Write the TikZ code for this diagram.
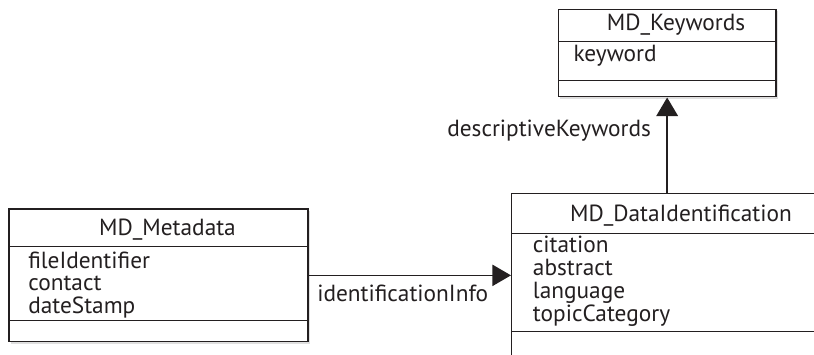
\documentclass[tikz,border=0pt]{standalone}
\usepackage{fontspec}
\setmainfont{PT Sans}
\usetikzlibrary{fit,arrows.meta,shadows}
\definecolor{ink}{HTML}{231F20}
\tikzset{
  umlbox/.style={draw=ink, line width=1.1pt, inner sep=0pt, fill=white,
    drop shadow={opacity=0.25, shadow xshift=1.4pt, shadow yshift=-1.4pt}},
  sepline/.style={draw=ink, line width=0.9pt},
  ttl/.style={text=ink, font=\fontsize{17.5}{20}\selectfont, anchor=base, inner sep=0pt},
  attr/.style={text=ink, font=\fontsize{17.5}{20}\selectfont, anchor=base west, inner sep=0pt},
  lbl/.style={text=ink, font=\fontsize{17.5}{20}\selectfont, anchor=base west, inner sep=0pt},
  assoc/.style={draw=ink, -{Triangle[length=14pt,width=16pt]}}
}
\begin{document}
\begin{tikzpicture}[x=0.75pt,y=-0.75pt]
\useasboundingbox (0,0) rectangle (814,354);
\clip (0,0) rectangle (814,354);
\fill[white] (0,0) rectangle (814,354);
% MD_Metadata
\node[umlbox, fit={(9,209) (308,341.7)}] (meta) {};
\draw[sepline] (9,246.7) -- (308,246.7);
\draw[sepline] (9,320.7) -- (308,320.7);
\node[ttl] (metat) at (167.5,235) {MD\_Metadata};
\node[attr] (ma1) at (28,268) {fileIdentifier};
\node[attr] (ma2) at (28,290.7) {contact};
\node[attr] (ma3) at (28,313.4) {dateStamp};
% MD_DataIdentification
\node[umlbox, fit={(511.7,193.3) (830,380)}] (di) {};
\draw[sepline] (511.7,233.3) -- (830,233.3);
\draw[sepline] (511.7,331.7) -- (830,331.7);
\node[ttl] (dit) at (681,221.7) {MD\_DataIdentification};
\node[attr] (da1) at (532.7,252.7) {citation};
\node[attr] (da2) at (532.7,275.7) {abstract};
\node[attr] (da3) at (532.7,298.7) {language};
\node[attr] (da4) at (532.7,321.7) {topicCategory};
% MD_Keywords
\node[umlbox, fit={(558.3,9.3) (776,96.7)}] (kw) {};
\draw[sepline] (558.3,41.3) -- (776,41.3);
\draw[sepline] (558.3,80.7) -- (776,80.7);
\node[ttl] (kwt) at (676,30) {MD\_Keywords};
\node[attr] (ka1) at (573.3,61.7) {keyword};
% connectors
\draw[assoc, line width=1.1pt] (meta.east) -- (meta.east -| di.west);
\node[lbl] (l1) at (317,301.7) {identificationInfo};
\draw[assoc, line width=1.9pt] (kw.south |- di.north) -- (kw.south);
\node[lbl] (l2) at (447,136) {descriptiveKeywords};
\end{tikzpicture}
\end{document}
